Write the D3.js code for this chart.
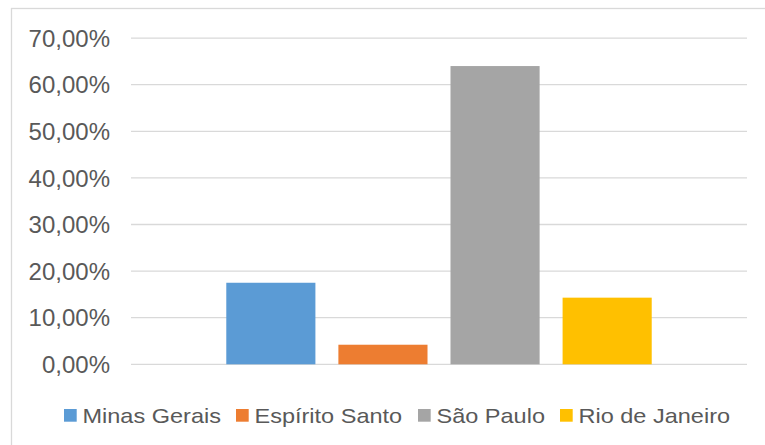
<!DOCTYPE html>
<html lang="pt">
<head>
<meta charset="UTF-8">
<title>Distribuição por estado</title>
<script src="https://d3js.org/d3.v7.min.js"></script>
<style>
  body { margin: 0; background: #fff; }
  svg { display: block; font-family: "Liberation Sans", Arial, sans-serif; }
  .grid line { stroke: #d9d9d9; stroke-width: 1.3; }
  .tick-label { fill: #595959; font-size: 24px; }
  .legend text { fill: #595959; font-size: 21px; }
</style>
</head>
<body>
<svg id="chart" width="765" height="445"></svg>
<script>
// share of each state
const states = ["Minas Gerais", "Espírito Santo", "São Paulo", "Rio de Janeiro"];
const shares = [0.175, 0.042, 0.640, 0.143];
const colors = ["#5b9bd5", "#ed7d31", "#a5a5a5", "#ffc000"];
const yTicks = [0, 0.1, 0.2, 0.3, 0.4, 0.5, 0.6, 0.7];

const svg = d3.select("#chart");

// chart border (runs past right and bottom edges)
svg.append("rect")
  .attr("x", 11.5).attr("y", 8.5)
  .attr("width", 800).attr("height", 500)
  .attr("fill", "none")
  .attr("stroke", "#d9d9d9")
  .attr("stroke-width", 1.3);

const plot = { left: 131, right: 747, top: 38.1, bottom: 364.3 };

const y = d3.scaleLinear().domain([0, 0.7]).range([plot.bottom, plot.top]);
const x = d3.scaleBand()
  .domain(states)
  .range([plot.left, plot.right])
  .paddingInner(0.205)
  .paddingOuter(0.85);

const fmt = v => d3.format(".2f")(v * 100).replace(".", ",") + "%";

// gridlines
svg.append("g").attr("class", "grid")
  .selectAll("line").data(yTicks).join("line")
  .attr("x1", plot.left).attr("x2", plot.right)
  .attr("y1", d => y(d)).attr("y2", d => y(d));

// y labels
svg.append("g")
  .selectAll("text").data(yTicks).join("text")
  .attr("class", "tick-label")
  .attr("x", 110)
  .attr("y", d => y(d))
  .attr("dy", "0.36em")
  .attr("text-anchor", "end")
  .text(fmt);

// bars
svg.append("g")
  .selectAll("rect").data(states).join("rect")
  .attr("x", d => x(d))
  .attr("width", x.bandwidth())
  .attr("y", (d, i) => y(shares[i]))
  .attr("height", (d, i) => y(0) - y(shares[i]))
  .attr("fill", (d, i) => colors[i]);

// legend
const legendX = [64, 236, 418, 560];
const legend = svg.append("g").attr("class", "legend");
const item = legend.selectAll("g").data(states).join("g")
  .attr("transform", (d, i) => `translate(${legendX[i]},409)`);
item.append("rect")
  .attr("width", 12.7).attr("height", 12.7)
  .attr("fill", (d, i) => colors[i]);
item.append("text")
  .attr("x", 18.5)
  .attr("y", 13.6)
  .attr("transform", "scale(1.12,1)")
  .attr("transform-origin", "18.5 0")
  .text(d => d);
</script>
</body>
</html>
